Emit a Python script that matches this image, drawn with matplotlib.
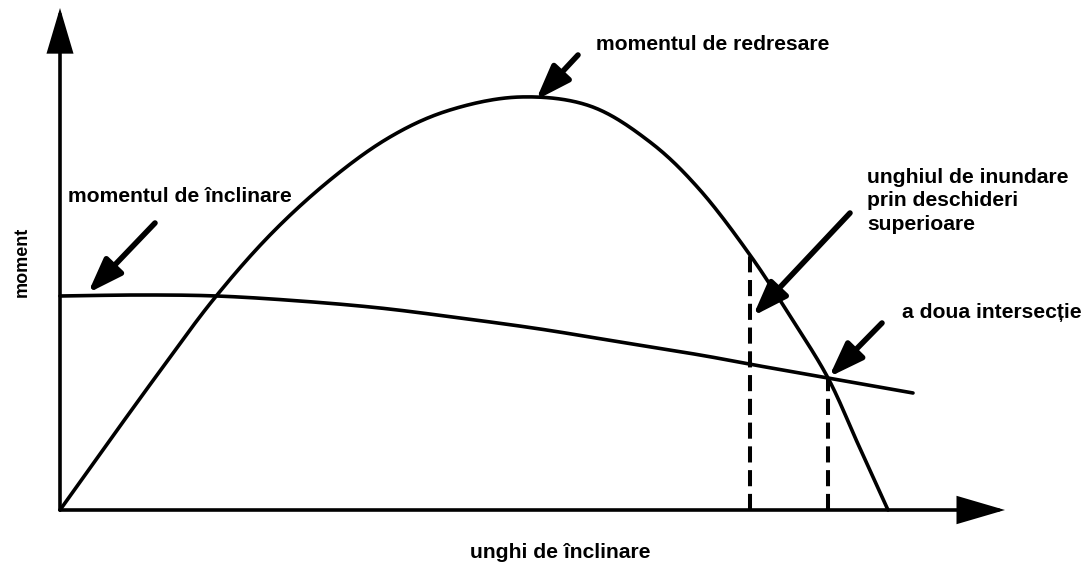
import numpy as np
import matplotlib
matplotlib.use("Agg")
import matplotlib.pyplot as plt

# ---- data (schematic stability diagram) ----
righting_angle = [0, 5.0, 10.0, 15.3, 21.0, 27.0, 33.0, 39.0, 46.0, 53.0,
                  59.0, 64.0, 69.0, 73.0, 76.8, 79.8, 82.8]
righting_moment = [0, 7.0, 13.9, 21.0, 27.5, 33.0, 37.3, 40.0, 41.3, 40.4,
                   36.8, 32.0, 25.5, 19.4, 13.2, 6.6, 0]
heeling_angle = [0, 8.0, 15.7, 24.0, 32.0, 40.0, 48.0, 56.0, 64.0, 70.0, 76.8, 85.3]
heeling_moment = [21.4, 21.5, 21.4, 20.9, 20.2, 19.2, 18.1, 16.8, 15.5, 14.4, 13.2, 11.7]
flood_angle = 69.0
flood_moment = 25.5
second_angle = 76.8
second_moment = 13.2

labels = {
    "righting": "momentul de redresare",
    "heeling": "momentul de înclinare",
    "flood": "unghiul de inundare\nprin deschideri\nsuperioare",
    "second": "a doua intersecție",
    "xlabel": "unghi de înclinare",
    "ylabel": "moment",
}


def catmull_rom(xs, ys, n=24):
    x = np.asarray(xs, float)
    y = np.asarray(ys, float)
    P = np.column_stack([x, y])
    P = np.vstack([2 * P[0] - P[1], P, 2 * P[-1] - P[-2]])
    out = []
    t = np.linspace(0, 1, n, endpoint=False)[:, None]
    for i in range(1, len(P) - 2):
        p0, p1, p2, p3 = P[i - 1], P[i], P[i + 1], P[i + 2]
        seg = 0.5 * ((2 * p1) + (-p0 + p2) * t + (2 * p0 - 5 * p1 + 4 * p2 - p3) * t ** 2
                     + (-p0 + 3 * p1 - 3 * p2 + p3) * t ** 3)
        out.append(seg)
    out.append(P[-2][None, :])
    out = np.vstack(out)
    return out[:, 0], out[:, 1]


plt.rcParams['font.family'] = ['Liberation Sans', 'DejaVu Sans']
fig = plt.figure(figsize=(10.87, 5.64), dpi=100)
ax = fig.add_axes([0, 0, 1, 1])
ax.set_xlim(-6, 102.7)
ax.set_ylim(-5.4, 51.0)
ax.axis('off')

lw = 2.6
# axes with arrows
ax.annotate("", xy=(0, 50.2), xytext=(0, 0),
            arrowprops=dict(arrowstyle="-|>,head_length=2.7,head_width=0.8", lw=lw,
                            color="black", shrinkA=0, shrinkB=0, joinstyle="miter"))
ax.annotate("", xy=(94.5, 0), xytext=(0, 0),
            arrowprops=dict(arrowstyle="-|>,head_length=2.9,head_width=0.85", lw=lw,
                            color="black", shrinkA=0, shrinkB=0, joinstyle="miter"))

# curves
cx, cy = catmull_rom(righting_angle, righting_moment)
ax.plot(cx, cy, color="black", lw=lw, solid_capstyle="round")
hx, hy = catmull_rom(heeling_angle, heeling_moment)
ax.plot(hx, hy, color="black", lw=lw, solid_capstyle="round")

# dashed verticals
ax.plot([flood_angle, flood_angle], [0, flood_moment], color="black", lw=2.9,
        linestyle=(0, (4.0, 1.9)))
ax.plot([second_angle, second_angle], [0, second_moment], color="black", lw=2.9,
        linestyle=(0, (4.0, 1.9)))

fs = 15.2
arrow_style = dict(arrowstyle="-|>,head_length=2.1,head_width=0.75", lw=4.0,
                   color="black", shrinkA=0, shrinkB=0)

# momentul de redresare
ax.text(53.6, 46.5, labels["righting"], fontsize=fs, fontweight="bold", va="center", ha="left")
ax.annotate("", xy=(47.6, 41.0), xytext=(51.8, 45.5), arrowprops=arrow_style)

# momentul de inclinare
ax.text(0.8, 31.3, labels["heeling"], fontsize=fs, fontweight="bold", va="center", ha="left")
ax.annotate("", xy=(2.8, 21.7), xytext=(9.5, 28.7), arrowprops=arrow_style)

# unghiul de inundare
ax.text(80.7, 30.9, labels["flood"], fontsize=fs, fontweight="bold", va="center", ha="left",
        linespacing=1.3)
ax.annotate("", xy=(69.3, 19.4), xytext=(79.0, 29.7), arrowprops=arrow_style)

# a doua intersectie
ax.text(84.2, 19.7, labels["second"], fontsize=fs, fontweight="bold", va="center", ha="left")
ax.annotate("", xy=(76.9, 13.3), xytext=(82.2, 18.7), arrowprops=arrow_style)

# axis labels
ax.text(50.0, -4.3, labels["xlabel"], fontsize=fs, fontweight="bold", va="center", ha="center")
ax.text(-3.8, 24.8, labels["ylabel"], fontsize=13, fontweight="bold", va="center", ha="center",
        rotation=90)

fig.savefig("out.png", dpi=100, facecolor="white")
